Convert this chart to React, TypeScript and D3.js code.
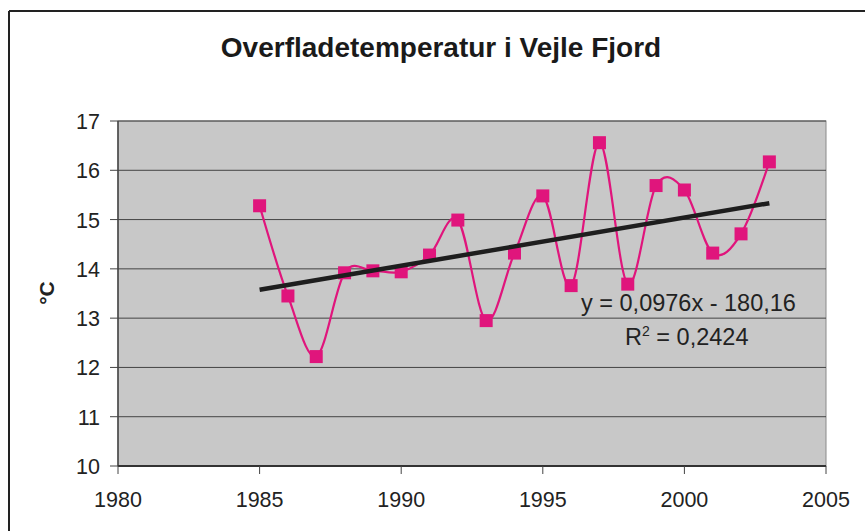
import React from "react";
import * as d3 from "d3";

const years = [1985, 1986, 1987, 1988, 1989, 1990, 1991, 1992, 1993, 1994, 1995, 1996, 1997, 1998, 1999, 2000, 2001, 2002, 2003];
const temps = [15.28, 13.45, 12.22, 13.92, 13.96, 13.94, 14.28, 14.99, 12.95, 14.32, 15.48, 13.66, 16.56, 13.69, 15.69, 15.6, 14.32, 14.71, 16.17];
const xTicks = [1980, 1985, 1990, 1995, 2000, 2005];
const yTicks = [10, 11, 12, 13, 14, 15, 16, 17];
const trendSlope = 0.0976;
const trendIntercept = -180.16;
const title = "Overfladetemperatur i Vejle Fjord";
const eqText = "y = 0,0976x - 180,16";
const r2Value = "0,2424";

export default function App() {
  const W = 865, H = 531;
  const left = 118, right = 826, top = 121, bottom = 466;
  const x = d3.scaleLinear().domain([1980, 2005]).range([left, right]);
  const y = d3.scaleLinear().domain([10, 17]).range([bottom, top]);
  const pts = years.map((yr, i) => [yr, temps[i]] as [number, number]);
  const line = d3.line<[number, number]>().x(d => x(d[0])).y(d => y(d[1])).curve(d3.curveCardinal.tension(0));
  const t0 = years[0], t1 = years[years.length - 1];
  const font = "'Liberation Sans', Arial, sans-serif";
  return (
    <svg width={W} height={H} style={{ position: "absolute", left: 0, top: 0, background: "#fff" }} fontFamily={font}>
      <rect x={0} y={0} width={W} height={H} fill="#fff" />
      {/* outer frame */}
      <line x1={9} y1={11} x2={W} y2={11} stroke="#222" strokeWidth={2} />
      <line x1={9} y1={11} x2={9} y2={H} stroke="#222" strokeWidth={2} />
      <text x={441} y={57} textAnchor="middle" fontSize={28} fontWeight="bold" fill="#1a1a1a">{title}</text>
      {/* plot area */}
      <rect x={left} y={top} width={right - left} height={bottom - top} fill="#c8c8c8" stroke="#8a8a8a" strokeWidth={1} />
      {yTicks.map(t => (
        <g key={t}>
          <line x1={left - 8} x2={t === 10 ? left : right} y1={y(t)} y2={y(t)} stroke="#444" strokeWidth={1} />
          <text x={100} y={y(t) + 8} textAnchor="end" fontSize={21.5} fill="#222">{t}</text>
        </g>
      ))}
      <line x1={left} x2={left} y1={top} y2={bottom} stroke="#444" strokeWidth={1.5} />
      <line x1={left} x2={right} y1={bottom} y2={bottom} stroke="#333" strokeWidth={2} />
      {xTicks.map(t => (
        <g key={t}>
          <line x1={x(t)} x2={x(t)} y1={bottom} y2={bottom + 8} stroke="#444" strokeWidth={1} />
          <text x={x(t)} y={507} textAnchor="middle" fontSize={21.5} fill="#222">{t}</text>
        </g>
      ))}
      <text transform={`translate(54,293) rotate(-90)`} textAnchor="middle" fontSize={21} fontWeight="bold" fill="#222">°C</text>
      {/* data */}
      <path d={line(pts) || ""} fill="none" stroke="#e0157c" strokeWidth={2.2} />
      {pts.map((p, i) => (
        <rect key={i} x={x(p[0]) - 6.5} y={y(p[1]) - 6.5} width={13} height={13} fill="#e0157c" />
      ))}
      {/* trend line */}
      <line x1={x(t0)} y1={y(trendSlope * t0 + trendIntercept)} x2={x(t1)} y2={y(trendSlope * t1 + trendIntercept)} stroke="#1e1e1e" strokeWidth={4.5} />
      <text x={581} y={311} fontSize={23.5} fill="#222">{eqText}</text>
      <text x={625} y={345} fontSize={23.5} fill="#222">R<tspan dy={-9} fontSize={14}>2</tspan><tspan dy={9}> = {r2Value}</tspan></text>
    </svg>
  );
}
